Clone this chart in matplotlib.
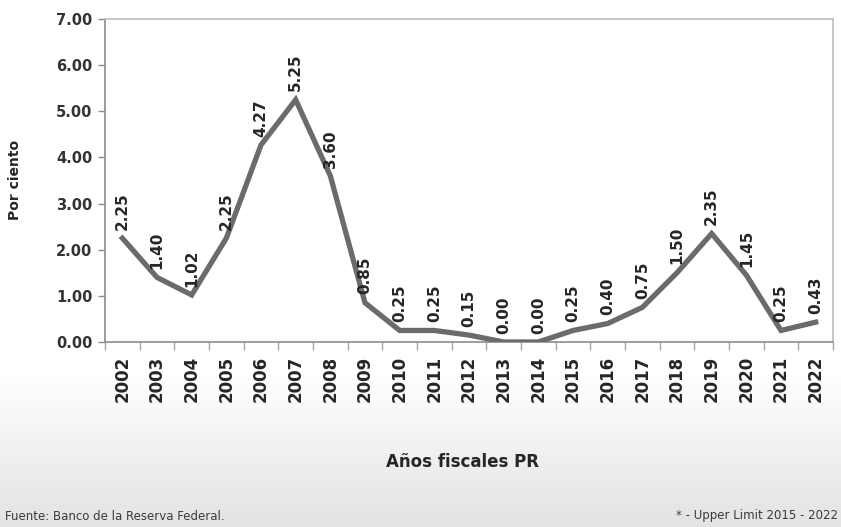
import numpy as np
import matplotlib
matplotlib.use("Agg")
import matplotlib.pyplot as plt
from matplotlib.ticker import FixedLocator, NullFormatter

years = ["2002", "2003", "2004", "2005", "2006", "2007", "2008", "2009", "2010", "2011",
         "2012", "2013", "2014", "2015", "2016", "2017", "2018", "2019", "2020", "2021", "2022"]
values = [2.25, 1.40, 1.02, 2.25, 4.27, 5.25, 3.60, 0.85, 0.25, 0.25,
          0.15, 0.00, 0.00, 0.25, 0.40, 0.75, 1.50, 2.35, 1.45, 0.25, 0.43]
y_ticks = [0, 1, 2, 3, 4, 5, 6, 7]

plt.rcParams['font.family'] = ['DejaVu Sans']

W, H = 841, 527
fig = plt.figure(figsize=(W / 100, H / 100), dpi=100)

# background gradient
bg = fig.add_axes([0, 0, 1, 1], zorder=-10)
n = 400
yy = np.linspace(1, 0, n)  # top to bottom (fig fraction)
start = 0.29
t = np.clip((start - yy) / start, 0, 1)
top_c = np.array([1.0, 1.0, 1.0])
bot_c = np.array([0.89, 0.89, 0.89])
cols = top_c[None, :] * (1 - t[:, None]) + bot_c[None, :] * t[:, None]
img = np.repeat(cols[:, None, :], 2, axis=1)
bg.imshow(img, aspect='auto', extent=[0, 1, 0, 1])
bg.axis('off')

ax = fig.add_axes([105 / W, 1 - 342 / H, (833 - 105) / W, (342 - 19) / H])
ax.set_facecolor('white')
x = np.arange(len(years))
ax.plot(x, values, color='#6b6b6b', lw=3.8, solid_joinstyle='miter', zorder=3)

ax.set_xlim(-0.5, len(years) - 0.5)
ax.set_ylim(0, 7)

for xi, v in zip(x, values):
    ax.annotate(f"{v:.2f}", (xi, v), xytext=(0, 6), textcoords='offset points',
                rotation=90, ha='center', va='bottom', fontsize=11,
                fontweight='bold', color='#262626', zorder=4)

ax.set_yticks(y_ticks)
ax.set_yticklabels([f"{v:.2f}" for v in y_ticks], fontsize=10.5, fontweight='bold', color='#333333')
ax.tick_params(axis='y', length=5, width=1, color='#8c8c8c', pad=4)

ax.set_xticks(x)
ax.set_xticklabels(years, rotation=90, fontsize=12, fontweight='bold', color='#262626')
ax.tick_params(axis='x', which='major', length=0, pad=10)
ax.xaxis.set_minor_locator(FixedLocator(np.arange(-0.5, len(years), 1.0)))
ax.xaxis.set_minor_formatter(NullFormatter())
ax.tick_params(axis='x', which='minor', length=6, width=1, color='#a6a6a6')

for s in ['left', 'bottom']:
    ax.spines[s].set_color('#8c8c8c')
    ax.spines[s].set_linewidth(1.2)
for s in ['top', 'right']:
    ax.spines[s].set_color('#bfbfbf')
    ax.spines[s].set_linewidth(1.2)

fig.text(15 / W, 1 - 180 / H, "Por ciento", rotation=90, ha='center', va='center',
         fontsize=10, fontweight='bold', color='#262626')
fig.text(462 / W, 1 - 462 / H, "Años fiscales PR", ha='center', va='center',
         fontsize=12, fontweight='bold', color='#262626')
fig.text(5 / W, 1 - 516 / H, "Fuente: Banco de la Reserva Federal.", ha='left', va='center',
         fontsize=8.5, color='#3a3a3a')
fig.text(838 / W, 1 - 516 / H, "* - Upper Limit 2015 - 2022", ha='right', va='center',
         fontsize=8.5, color='#3a3a3a')

fig.savefig("out.png", dpi=100)
